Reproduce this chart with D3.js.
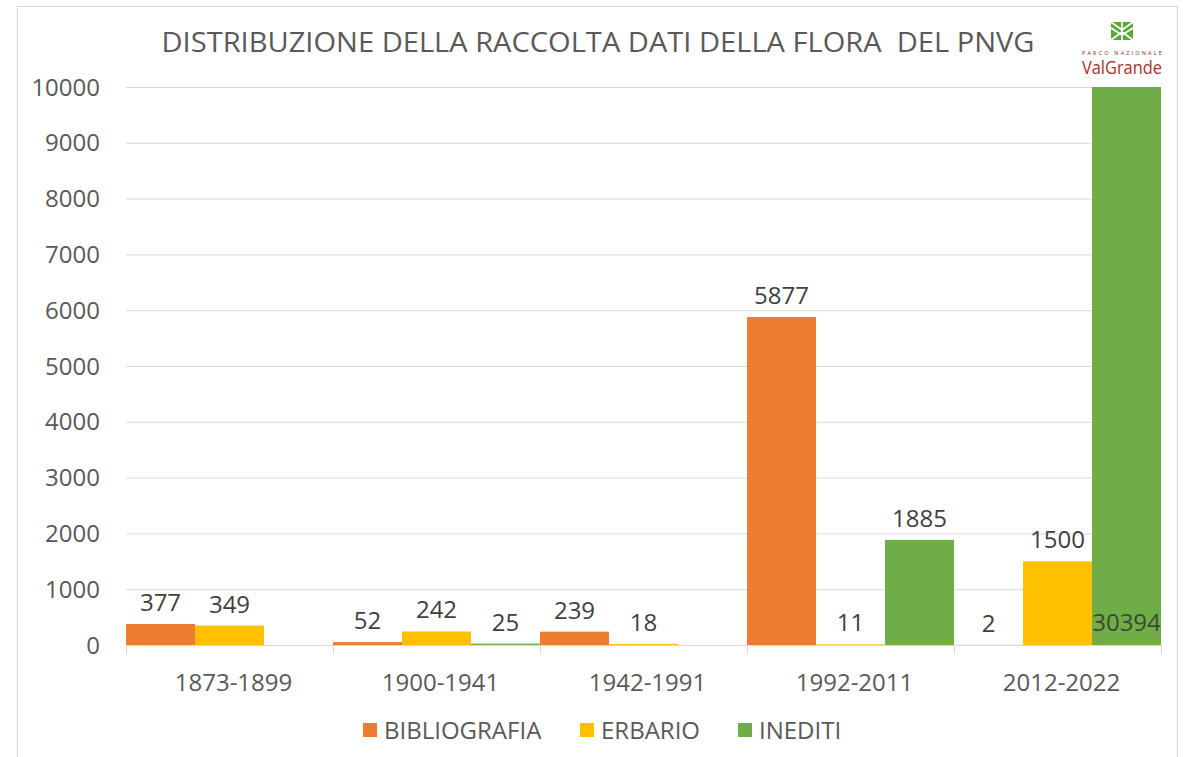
<!DOCTYPE html>
<meta charset="utf-8">
<style>
body { margin:0; background:#fff; }
svg text { font-family: "Open Sans", "DejaVu Sans", sans-serif; fill:#595959; }
</style>
<body>
<svg width="1183" height="757" id="vis"></svg>
<script src="https://d3js.org/d3.v7.min.js"></script>
<script>
var categories = ["1873-1899", "1900-1941", "1942-1991", "1992-2011", "2012-2022"];
var seriesNames = ["BIBLIOGRAFIA", "ERBARIO", "INEDITI"];
var bibliografia = [377, 52, 239, 5877, 2];
var erbario = [349, 242, 18, 11, 1500];
var inediti = [0, 25, 0, 1885, 30394];
var yTicks = [0, 1000, 2000, 3000, 4000, 5000, 6000, 7000, 8000, 9000, 10000];
var colours = ["#ed7d31", "#ffc000", "#70ad47"];
// labels shown by the original (empty cells have none)
var showLabel = [
  [true, true, true, true, true],
  [true, true, true, true, true],
  [false, true, false, true, true]
];

var series = [bibliografia, erbario, inediti];

var svg = d3.select("svg");

// frame
svg.append("rect")
  .attr("x", 17.5).attr("y", 6.5)
  .attr("width", 1160).attr("height", 760)
  .attr("fill", "none").attr("stroke", "#d9d9d9");

var margin = {left: 126, right: 22, top: 87, bottom: 112},
    width = 1183 - margin.left - margin.right,
    height = 757 - margin.top - margin.bottom;

var x = d3.scaleBand().domain(categories).range([0, width]).padding(0);
var x1 = d3.scaleBand().domain(d3.range(series.length)).range([0, x.bandwidth()]).padding(0);
var y = d3.scaleLinear().domain([0, 10000]).range([height, 0]);

var g = svg.append("g").attr("transform", "translate(" + margin.left + "," + margin.top + ")");

// gridlines
g.append("g").selectAll("line").data(yTicks).join("line")
  .attr("x1", 0).attr("x2", width)
  .attr("y1", function(d){ return y(d) + 0.5; })
  .attr("y2", function(d){ return y(d) + 0.5; })
  .attr("stroke", "#d9d9d9").attr("stroke-width", 1);

// y tick labels
g.append("g").selectAll("text").data(yTicks).join("text")
  .attr("x", -26).attr("y", function(d){ return y(d); })
  .attr("dy", "0.36em")
  .attr("text-anchor", "end")
  .style("font-size", "24px")
  .text(function(d){ return d; });

// bars
var clipId = "plotclip";
svg.append("defs").append("clipPath").attr("id", clipId)
  .append("rect").attr("x", 0).attr("y", 0).attr("width", width).attr("height", height);

var barsG = g.append("g").attr("clip-path", "url(#" + clipId + ")");
series.forEach(function(vals, si) {
  barsG.append("g").selectAll("rect").data(vals).join("rect")
    .attr("x", function(d, i){ return x(categories[i]) + x1(si); })
    .attr("y", function(d){ return y(Math.min(d, 10000 * 1.01)); })
    .attr("width", x1.bandwidth())
    .attr("height", function(d){ return y(0) - y(Math.min(d, 10000 * 1.01)); })
    .attr("fill", colours[si]);
});

// x axis
var xaxis = g.append("g").attr("transform", "translate(0," + height + ")");
xaxis.append("line").attr("x1", 0).attr("x2", width).attr("y1", 0.5).attr("y2", 0.5)
  .attr("stroke", "#d9d9d9");
xaxis.selectAll("line.tick").data(d3.range(categories.length + 1)).join("line")
  .attr("class", "tick")
  .attr("x1", function(d){ return Math.round(d * x.bandwidth()) + 0.5; })
  .attr("x2", function(d){ return Math.round(d * x.bandwidth()) + 0.5; })
  .attr("y1", 0).attr("y2", 9)
  .attr("stroke", "#d9d9d9");
xaxis.selectAll("text").data(categories).join("text")
  .attr("x", function(d){ return x(d) + x.bandwidth() / 2 + 4; })
  .attr("y", 46)
  .attr("text-anchor", "middle")
  .style("font-size", "24px")
  .text(function(d){ return d; });

// data labels
series.forEach(function(vals, si) {
  var items = vals.map(function(v, i){ return {v: v, cat: categories[i], show: showLabel[si][i]}; })
    .filter(function(d){ return d.show; });
  g.append("g").selectAll("text").data(items).join("text")
    .attr("x", function(d){ return x(d.cat) + x1(si) + x1.bandwidth() / 2; })
    .attr("y", function(d){ return d.v > 10000 ? y(0) - 14 : y(d.v) - 13; })
    .attr("text-anchor", "middle")
    .style("font-size", "24px")
    .style("fill", function(d){ return d.v > 10000 ? "#3b4a33" : "#404040"; })
    .text(function(d){ return d.v; });
});

// title
svg.append("text")
  .attr("x", 598).attr("y", 52)
  .attr("text-anchor", "middle")
  .attr("textLength", 873).attr("lengthAdjust", "spacingAndGlyphs")
  .style("font-size", "27px")
  .style("white-space", "pre")
  .text("DISTRIBUZIONE DELLA RACCOLTA DATI DELLA FLORA  DEL PNVG");

// legend
var legendX = [363, 580, 738];
var legend = svg.append("g").selectAll("g").data(seriesNames).join("g")
  .attr("transform", function(d, i){ return "translate(" + legendX[i] + ",723)"; });
legend.append("rect").attr("width", 14).attr("height", 14)
  .attr("fill", function(d, i){ return colours[i]; });
legend.append("text").attr("x", 21).attr("y", 7).attr("dy", "0.36em")
  .style("font-size", "24px")
  .text(function(d){ return d; });

// logo
var logo = svg.append("g").attr("transform", "translate(1122,31)");
logo.append("rect").attr("x", -11).attr("y", -9).attr("width", 22).attr("height", 18).attr("fill", "#5aa83c");
[[-11,-9,0,-1],[11,-9,0,-1],[-11,-3,0,4],[11,-3,0,4],[-11,9,0,1],[11,9,0,1],[0,-9,0,9]].forEach(function(l){
  logo.append("line").attr("x1", l[0]).attr("y1", l[1]).attr("x2", l[2]).attr("y2", l[3])
    .attr("stroke", "#fff").attr("stroke-width", 1.6);
});
svg.append("text").attr("x", 1123).attr("y", 55).attr("text-anchor", "middle")
  .attr("textLength", 82).attr("lengthAdjust", "spacingAndGlyphs")
  .style("font-size", "5px").style("fill", "#8a2a22").style("letter-spacing", "2px")
  .text("PARCO NAZIONALE");
svg.append("text").attr("x", 1122).attr("y", 74).attr("text-anchor", "middle")
  .attr("textLength", 80).attr("lengthAdjust", "spacingAndGlyphs")
  .style("font-size", "19px").style("fill", "#a3342b")
  .text("ValGrande");
</script>
</body>
